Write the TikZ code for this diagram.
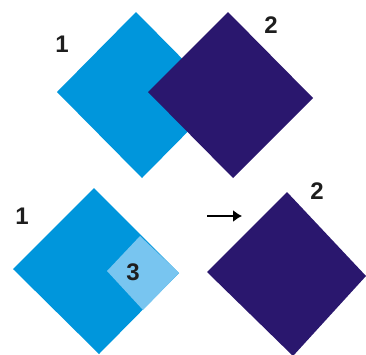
\documentclass[tikz,border=0pt]{standalone}
\usepackage{fontspec}
\setmainfont{Liberation Sans}
\usetikzlibrary{arrows.meta}

\definecolor{lightblue}{RGB}{0,150,220}
\definecolor{darkblue}{RGB}{42,23,110}
\definecolor{paleblue}{RGB}{120,197,240}
\definecolor{numtext}{RGB}{30,30,30}

\begin{document}
\begin{tikzpicture}[
x=1pt,y=-1pt,
every node/.style={
text=numtext,
font=\fontsize{24}{24}\selectfont\bfseries,
inner sep=0pt
}
]

\useasboundingbox (0,0) rectangle (366,354);

% top
\fill[lightblue] (136,12) -- (221,98) -- (142,178) -- (57,92) -- cycle;
\fill[darkblue] (228,12) -- (313,98) -- (233,178) -- (148,92) -- cycle;

\node (T1) at (62,44) {1};
\node (T2) at (271,25) {2};

% bottom
\fill[lightblue] (94,188) -- (179,273) -- (99,354) -- (13,269) -- cycle;
\fill[paleblue] (140,236) -- (179,273) -- (143,310) -- (107,271) -- cycle;
\fill[darkblue] (287,192) -- (366,276) -- (293,356) -- (207,272) -- cycle;

\node (B1) at (22,216) {1};
\node (B3) at (133,272) {3};
\node (B2) at (317,191) {2};

\coordinate (A1) at (207,216);
\coordinate (A2) at (242,216);
\draw[line width=1.4pt,-{Latex[length=9pt,width=12pt]}] (A1) -- (A2);

\end{tikzpicture}
\end{document}
